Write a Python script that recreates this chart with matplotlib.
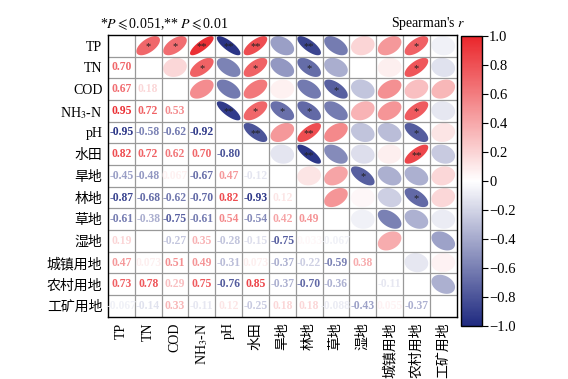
import numpy as np
import matplotlib
matplotlib.use("Agg")
import matplotlib.pyplot as plt
from matplotlib.colors import LinearSegmentedColormap, Normalize
from matplotlib.patches import Polygon

plt.rcParams['font.family'] = ['Liberation Serif', 'Noto Sans CJK SC', 'DejaVu Sans']
plt.rcParams['mathtext.fontset'] = 'stix'
plt.rcParams['axes.unicode_minus'] = True

labels = ['TP', 'TN', 'COD', 'NH$_3$-N', 'pH', '水田', '旱地', '林地', '草地',
          '湿地', '城镇用地', '农村用地', '工矿用地']

# lower triangle of the Spearman matrix (None = not shown)
lower = [
    [],
    [0.70],
    [0.67, 0.18],
    [0.95, 0.72, 0.53],
    [-0.95, -0.58, -0.62, -0.92],
    [0.82, 0.72, 0.62, 0.70, -0.80],
    [-0.45, -0.48, 0.067, -0.67, 0.47, -0.12],
    [-0.87, -0.68, -0.62, -0.70, 0.82, -0.93, 0.12],
    [-0.61, -0.38, -0.75, -0.61, 0.54, -0.54, 0.42, 0.49],
    [0.19, None, -0.27, 0.35, -0.28, -0.15, -0.75, 0.033, -0.067],
    [0.47, 0.073, 0.51, 0.49, -0.31, 0.073, -0.37, -0.22, -0.59, 0.38],
    [0.73, 0.78, 0.29, 0.75, -0.76, 0.85, -0.37, -0.70, -0.36, None, -0.11],
    [-0.067, -0.14, 0.33, -0.11, 0.12, -0.25, 0.18, 0.18, -0.088, -0.43, 0.055, -0.37],
]

# significance marks for the upper triangle, per row (columns i+1 .. 12)
sig = [
    ['*', '*', '**', '**', '**', '', '**', '', '', '', '*', ''],
    ['', '*', '', '*', '', '*', '', '', '', '*', ''],
    ['', '', '', '', '', '*', '', '', '', ''],
    ['**', '*', '*', '*', '', '', '', '*', ''],
    ['**', '', '**', '', '', '', '*', ''],
    ['', '**', '', '', '', '**', ''],
    ['', '', '*', '', '', ''],
    ['', '', '', '*', ''],
    ['', '', '', ''],
    ['', '', ''],
    ['', ''],
    [''],
    [],
]

n = len(labels)
cmap = LinearSegmentedColormap.from_list('sp', ['#1f2a80', '#ffffff', '#ea262b'])
norm = Normalize(-1, 1)

fig = plt.figure(figsize=(5.68, 3.79), dpi=100)
ax = fig.add_axes([0.190, 0.164, 0.614, 0.744])
ax.set_xlim(-0.5, n - 0.5)
ax.set_ylim(n - 0.5, -0.5)

t = np.linspace(0, 2 * np.pi, 100)
half = 0.44
for i in range(n):
    for j in range(i):
        r = lower[i][j]
        if r is None:
            continue
        col = cmap(norm(r))
        txt = f"{r:.2g}" if abs(r) < 0.1 else f"{r:.2f}"
        ax.text(j, i, txt, ha='center', va='center', fontsize=8.4,
                fontweight='bold', color=col)
        # ellipse in the mirrored upper cell (row j, column i)
        ratio = 1 - 0.7 * abs(r)
        a = half * np.sqrt(2 / (1 + ratio ** 2))
        b = ratio * a
        u = a * np.cos(t)
        v = b * np.sin(t)
        s2 = np.sqrt(0.5)
        ex = (u - v) * s2
        ey = (u + v) * s2 * np.sign(r if r != 0 else 1)
        ax.add_patch(Polygon(np.column_stack([i + ex, j - ey]), closed=True,
                             facecolor=col, edgecolor='none'))
        s = sig[j][i - j - 1]
        if s:
            ax.text(i, j + 0.05, s, ha='center', va='center', fontsize=7.5,
                    color='#222222')

for k in range(1, n):
    ax.axhline(k - 0.5, color='#999999', lw=0.9)
    ax.axvline(k - 0.5, color='#999999', lw=0.9)
for sp in ax.spines.values():
    sp.set_color('black')
    sp.set_linewidth(1.0)

ax.set_xticks(range(n))
ax.set_yticks(range(n))
ax.set_xticklabels(labels, rotation=90, fontsize=10)
ax.set_yticklabels(labels, fontsize=10)
ax.tick_params(length=0, pad=4)

fig.text(0.176, 0.937, r'*$P\leqslant$0.051,** $P\leqslant$0.01', fontsize=10,
         ha='left', va='center')

cax = fig.add_axes([0.812, 0.140, 0.037, 0.765])
sm = plt.cm.ScalarMappable(norm=norm, cmap=cmap)
cb = fig.colorbar(sm, cax=cax)
cb.set_ticks(np.linspace(-1, 1, 11))
cb.set_ticklabels(['\u22121.0', '\u22120.8', '\u22120.6', '\u22120.4', '\u22120.2', '0',
                   '0.2', '0.4', '0.6', '0.8', '1.0'])
cb.ax.tick_params(labelsize=10.5, length=4, width=0.8, pad=1)
cb.outline.set_linewidth(1.0)
fig.text(0.819, 0.937, "Spearman's $r$", ha='right', va='center', fontsize=10)

fig.savefig('out.png', dpi=100)
